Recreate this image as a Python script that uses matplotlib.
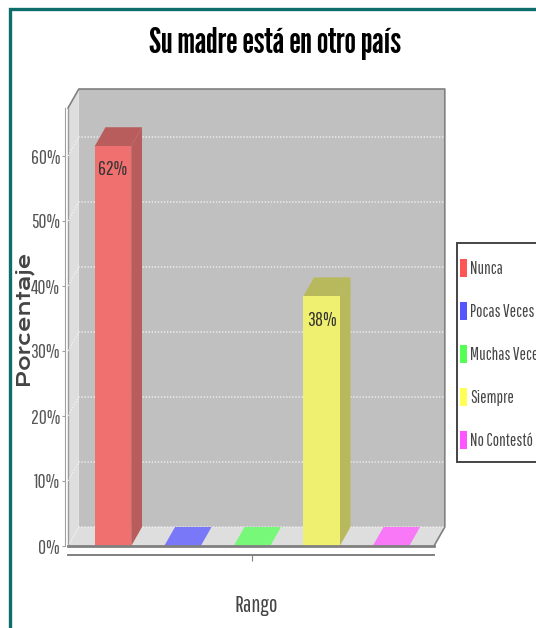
import matplotlib
matplotlib.use("Agg")
import matplotlib.pyplot as plt
from matplotlib.patches import Polygon, Rectangle

categories = ["Nunca", "Pocas Veces", "Muchas Veces", "Siempre", "No Contestó"]
values = [61.5, 0, 0, 38.4, 0]
bar_labels = ["62%", "", "", "38%", ""]
yticks = [0, 10, 20, 30, 40, 50, 60]
ytick_labels = ["0%", "10%", "20%", "30%", "40%", "50%", "60%"]

front = ["#f07070", "#7878f8", "#78f878", "#f0f070", "#f878f8"]
dark = ["#b85c5c", "#5c5cb8", "#5cb85c", "#b8b85c", "#b85cb8"]
swatch = ["#ff5555", "#5555ff", "#55ff55", "#ffff55", "#ff55ff"]

W, H = 536, 628
narrow = ["Pathway Gothic One", "Liberation Sans"]
title_font = ["League Gothic", "Liberation Sans"]
wide_font = ["Krona One", "DejaVu Sans"]

fig = plt.figure(figsize=(W / 100, H / 100), dpi=100)

# overlay in pixels for the frame and legend
bg = fig.add_axes([0, 0, 1, 1], zorder=0)
bg.set_xlim(0, W)
bg.set_ylim(H, 0)
bg.axis("off")
bg.plot([9.5, 9.5, W], [H, 8.5, 8.5], color="#0f6e6b", lw=2.4, solid_joinstyle="miter")

# main axes = front plane of the 3d box
ax = fig.add_axes([68 / W, (H - 546) / H, 366 / W, 438 / H], zorder=1)
ax.patch.set_visible(False)
ax.set_xlim(-0.647, 4.619)
ax.set_ylim(0, 438 / 6.5)
x0, x1 = ax.get_xlim()
y1 = ax.get_ylim()[1]
dx = 10.8 / 69.5
dy = 19 / 6.5
bw = 36.5 / 69.5

# walls and floor
ax.add_patch(Rectangle((x0 + dx, dy), x1 - x0, y1, fc="#c0c0c0", ec="none", clip_on=False, zorder=1))
ax.add_patch(Polygon([(x0, 0), (x0 + dx, dy), (x0 + dx, y1 + dy), (x0, y1)], fc="#dedede", ec="none", clip_on=False, zorder=1))
ax.add_patch(Polygon([(x0, 0), (x1, 0), (x1 + dx, dy), (x0 + dx, dy)], fc="#dedede", ec="none", clip_on=False, zorder=1))
ax.plot([x0, x0 + dx, x1 + dx, x1 + dx, x1], [y1, y1 + dy, y1 + dy, dy, 0], color="#808080", lw=1.2, clip_on=False, zorder=2)
ax.plot([x0, x1], [0, 0], color="#808080", lw=2, clip_on=False, zorder=6)
ax.plot([x0, x0], [0, y1], color="#9a9a9a", lw=1, clip_on=False, zorder=2)

for t in yticks:
    ax.plot([x0, x0 + dx, x1 + dx], [t, t + dy, t + dy], color="#f0f0f0", lw=1, ls=(0, (1, 1.2)), clip_on=False, zorder=2)

# bars
for i, v in enumerate(values):
    l = i - bw / 2
    r = i + bw / 2
    ax.add_patch(Polygon([(l, v), (r, v), (r + dx, v + dy), (l + dx, v + dy)], fc=dark[i] if v > 0 else front[i], ec="none", zorder=3))
    if v > 0:
        ax.add_patch(Polygon([(r, 0), (r + dx, dy), (r + dx, v + dy), (r, v)], fc=dark[i], ec="none", zorder=3))
        ax.add_patch(Rectangle((l, 0), bw, v, fc=front[i], ec="none", zorder=4))
        ax.annotate(bar_labels[i], (i, v), xytext=(0, -17), textcoords="offset points", ha="center", va="center",
                    fontsize=14, family=narrow, color="#333333", zorder=5)

# axes
for s in ["top", "right"]:
    ax.spines[s].set_visible(False)
ax.spines["left"].set_position(("outward", 2.2))
ax.spines["bottom"].set_position(("outward", 6.8))
ax.spines["left"].set_color("#a0a0a0")
ax.spines["bottom"].set_color("#808080")
ax.spines["bottom"].set_linewidth(1.4)
ax.set_yticks(yticks)
ax.set_yticklabels(ytick_labels, fontsize=14, family=narrow, color="#555555")
ax.set_xticks([2])
ax.set_xticklabels([""])
ax.tick_params(axis="y", length=2, width=0.8, color="#a0a0a0", pad=1.5)
ax.tick_params(axis="x", length=4, width=0.8, color="#808080")
ax.set_xlabel("Rango", fontsize=16.5, family=narrow, color="#444444")
ax.xaxis.set_label_coords(0.515, -0.113)
ax.set_ylabel("Porcentaje", fontsize=13.5, fontweight="bold", family=wide_font, color="#444444")
ax.yaxis.set_label_coords((33 - 68) / 366, (546 - 318) / 438)

fig.text(275 / W, 1 - 44 / H, "Su madre está en otro país", ha="center", va="center",
         fontsize=26, fontweight="bold", family=title_font, color="black")

# legend, runs off the right edge like the original
bg.add_patch(Rectangle((457, 243), 100, 219, fc="white", ec="#444444", lw=1.4))
for i, name in enumerate(categories):
    y = 267.5 + i * 43.2
    bg.add_patch(Rectangle((460, y - 9), 7, 18, fc=swatch[i], ec="none"))
    bg.text(470, y + 1, name, fontsize=12.2, family=narrow, color="#444444", va="center", ha="left")

fig.savefig("out.png", dpi=100)
